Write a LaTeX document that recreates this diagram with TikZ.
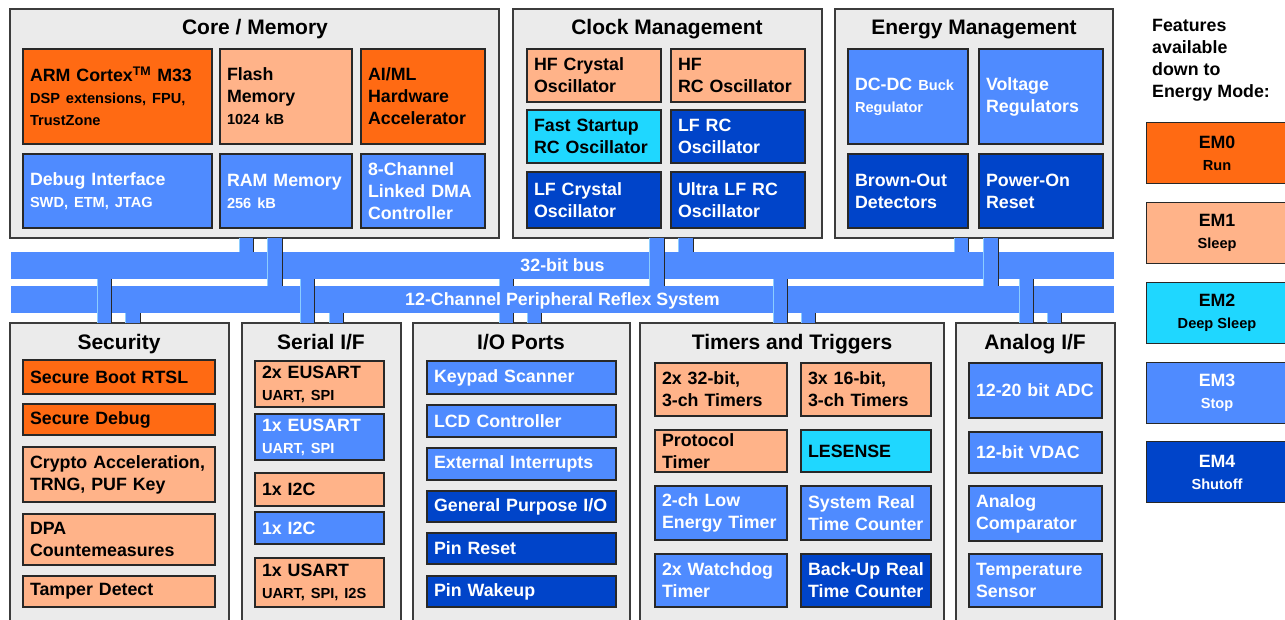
\documentclass[tikz,border=0pt]{standalone}
\usepackage{fontspec}
\setmainfont{Liberation Sans}
\definecolor{emzero}{RGB}{255,106,19}
\definecolor{emone}{RGB}{255,179,137}
\definecolor{emtwo}{RGB}{31,215,255}
\definecolor{emthree}{RGB}{79,139,255}
\definecolor{emfour}{RGB}{0,68,201}
\definecolor{panelgray}{RGB}{235,235,235}
\definecolor{panelline}{RGB}{60,60,60}
\definecolor{cellline}{RGB}{40,40,40}
\definecolor{stubshine}{RGB}{140,205,255}
\newcommand\titlefont{\fontsize{21}{24}\selectfont\bfseries}
\newcommand\cellfont{\fontsize{17.8}{22}\selectfont\bfseries}
\newcommand\subfont{\fontsize{14.6}{21}\selectfont\bfseries}
\newcommand\sm[1]{{\subfont #1}}
\begin{document}
\begin{tikzpicture}[x=1pt,y=-1pt]
	\tikzset{panel/.style 2 args = {draw=panelline, line width=1.4pt, fill=panelgray, minimum width=#1, minimum height=#2, anchor=north west, inner sep=0pt, outer sep=0pt}}
	\tikzset{ptitle/.style = {anchor=base, inner sep=0pt, font=\titlefont}}
	\tikzset{cell/.style 2 args = {draw=cellline, line width=1.1pt, minimum width=#1, minimum height=#2, /utils/exec={\pgfmathsetmacro\celltw{#1-14}}, text width=\celltw pt, align=left, anchor=north west, inner xsep=7pt, inner ysep=0pt, outer sep=0pt, font=\cellfont}}
	\tikzset{em0/.style = {fill=emzero, text=black}, em1/.style = {fill=emone, text=black}, em2/.style = {fill=emtwo, text=black}, em3/.style = {fill=emthree, text=white}, em4/.style = {fill=emfour, text=white}}
	\tikzset{band/.style = {fill=emthree, minimum width=1103, minimum height=27, anchor=north west, inner sep=0pt, outer sep=0pt}}
	\tikzset{buslabel/.style = {fill=emthree, text=white, inner xsep=1pt, inner ysep=0pt, minimum height=27, font=\cellfont, text height=12.7pt, text depth=0pt}}
	\tikzset{modebox/.style = {draw=cellline, line width=1.1pt, minimum width=141, minimum height=61, anchor=north west, align=center, inner sep=0pt, font=\cellfont}}
	\path[use as bounding box, clip] (0,0) rectangle (1285,619);

	\node[panel={489}{229}] (core) at (10,9) {};
	\node[panel={309}{229}] (clock) at (513,9) {};
	\node[panel={278}{229}] (energy) at (835,9) {};
	\node[panel={219}{330}] (security) at (10,323) {};
	\node[panel={159}{330}] (serial) at (242,323) {};
	\node[panel={217}{330}] (ioports) at (413,323) {};
	\node[panel={304}{330}] (timers) at (640,323) {};
	\node[panel={159}{330}] (analog) at (956,323) {};

	\node[ptitle] (coretitle) at (255,34) {Core / Memory};
	\node[ptitle] (clocktitle) at (667,34) {Clock Management};
	\node[ptitle] (energytitle) at (974,34) {Energy Management};
	\node[ptitle] (securitytitle) at (119,349) {Security};
	\node[ptitle] (serialtitle) at (321,349) {Serial I/F};
	\node[ptitle] (iotitle) at (521,349) {I/O Ports};
	\node[ptitle] (timerstitle) at (792,349) {Timers and Triggers};
	\node[ptitle] (analogtitle) at (1035,349) {Analog I/F};

	\node[cell={189}{95}, em0] (arm) at (23,49) {ARM Cortex\textsuperscript{TM} M33\\\sm{DSP extensions, FPU,}\\\sm{TrustZone}};
	\node[cell={132}{95}, em1] (flash) at (220,49) {Flash\\Memory\\\sm{1024 kB}};
	\node[cell={124}{95}, em0] (aiml) at (361,49) {AI/ML\\Hardware\\Accelerator};
	\node[cell={189}{74}, em3] (debug) at (23,154) {Debug Interface\\\sm{SWD, ETM, JTAG}};
	\node[cell={132}{74}, em3] (ram) at (220,154) {RAM Memory\\\sm{256 kB}};
	\node[cell={124}{74}, em3] (dma) at (361,154) {8-Channel\\Linked DMA\\Controller};

	\node[cell={134}{53}, em1] (hfxo) at (527,49) {HF Crystal\\Oscillator};
	\node[cell={134}{53}, em1] (hfrco) at (671,49) {HF\\RC Oscillator};
	\node[cell={134}{53}, em2] (fsrco) at (527,110) {Fast Startup\\RC Oscillator};
	\node[cell={134}{53}, em4] (lfrco) at (671,110) {LF RC\\Oscillator};
	\node[cell={134}{56}, em4] (lfxo) at (527,172) {LF Crystal\\Oscillator};
	\node[cell={134}{56}, em4] (ulfrco) at (671,172) {Ultra LF RC\\Oscillator};

	\node[cell={120}{95}, em3] (dcdc) at (848,49) {DC-DC \sm{Buck}\\\sm{Regulator}};
	\node[cell={124}{95}, em3] (vreg) at (979,49) {Voltage\\Regulators};
	\node[cell={120}{74}, em4] (bod) at (848,154) {Brown-Out\\Detectors};
	\node[cell={124}{74}, em4] (por) at (979,154) {Power-On\\Reset};

	\node[cell={192}{34}, em0] (sboot) at (23,360) {Secure Boot RTSL};
	\node[cell={192}{31}, em0] (sdebug) at (23,404) {Secure Debug};
	\node[cell={192}{55}, em1] (crypto) at (23,447) {Crypto Acceleration,\\TRNG, PUF Key};
	\node[cell={192}{51}, em1] (dpa) at (23,514) {DPA\\Countemeasures};
	\node[cell={192}{31}, em1] (tamper) at (23,576) {Tamper Detect};

	\node[cell={129}{46}, em1] (eusartb) at (255,361) {2x EUSART\\\sm{UART, SPI}};
	\node[cell={129}{46}, em3] (eusarta) at (255,414) {1x EUSART\\\sm{UART, SPI}};
	\node[cell={129}{33}, em1] (itwoca) at (255,473) {1x I2C};
	\node[cell={129}{32}, em3] (itwocb) at (255,512) {1x I2C};
	\node[cell={129}{49}, em1] (usart) at (255,558) {1x USART\\\sm{UART, SPI, I2S}};

	\node[cell={189}{33}, em3] (keypad) at (427,361) {Keypad Scanner};
	\node[cell={189}{32}, em3] (lcd) at (427,405) {LCD Controller};
	\node[cell={189}{32}, em3] (extint) at (427,448) {External Interrupts};
	\node[cell={189}{31}, em4] (gpio) at (427,491) {General Purpose I/O};
	\node[cell={189}{31}, em4] (pinreset) at (427,533) {Pin Reset};
	\node[cell={189}{31}, em4] (pinwake) at (427,576) {Pin Wakeup};

	\node[cell={132}{53}, em1] (timwide) at (655,363) {2x 32-bit,\\3-ch Timers};
	\node[cell={130}{53}, em1] (timnarrow) at (801,363) {3x 16-bit,\\3-ch Timers};
	\node[cell={132}{42}, em1] (prot) at (655,430) {Protocol\\Timer};
	\node[cell={130}{42}, em2] (lesense) at (801,430) {LESENSE};
	\node[cell={132}{54}, em3] (letimer) at (655,486) {2-ch Low\\Energy Timer};
	\node[cell={130}{54}, em3] (sysrtc) at (801,486) {System Real\\Time Counter};
	\node[cell={132}{53}, em3] (wdog) at (655,554) {2x Watchdog\\Timer};
	\node[cell={130}{53}, em4] (burtc) at (801,554) {Back-Up Real\\Time Counter};

	\node[cell={133}{55}, em3] (adc) at (969,363) {12-20 bit ADC};
	\node[cell={133}{41}, em3] (vdac) at (969,432) {12-bit VDAC};
	\node[cell={133}{55}, em3] (acmp) at (969,486) {Analog\\Comparator};
	\node[cell={133}{53}, em3] (tempsense) at (969,554) {Temperature\\Sensor};

	\node[band] (bus32) at (11,252) {};
	\node[band] (busprs) at (11,286) {};

	\foreach \xl/\xr/\up/\dn in {239/253/core/bus32, 267/282/core/busprs, 649/664/clock/busprs, 678/693/clock/bus32, 954/968/energy/bus32, 983/998/energy/busprs, 97/111/bus32/security, 125/140/busprs/security, 300/314/bus32/serial, 329/343/busprs/serial, 499/513/bus32/ioports, 527/541/busprs/ioports, 773/787/bus32/timers, 801/815/busprs/timers, 1019/1033/bus32/analog, 1047/1061/busprs/analog}
	{
		\fill[emthree] (\up.south -| \xl,0) rectangle (\dn.north -| \xr,0);
		\draw[cellline, line width=1pt] (\up.south -| \xr,0) -- (\dn.north -| \xr,0);
		\draw[stubshine, line width=1pt] (\up.south -| \xl,0) -- (\dn.north -| \xl,0);
	}

	\node[buslabel] (bus32label) at (bus32) {32-bit bus};
	\node[buslabel] (busprslabel) at (busprs) {12-Channel Peripheral Reflex System};

	\node[anchor=north west, align=left, inner sep=0pt, font=\cellfont] (modenote) at (1152,19) {Features\\available\\down to\\Energy Mode:};
	\node[modebox, em0] (modezero) at (1146,122) {EM0\\\sm{Run}};
	\node[modebox, em1] (modeone) at (1146,202) {EM1\\\sm{Sleep}};
	\node[modebox, em2] (modetwo) at (1146,282) {EM2\\\sm{Deep Sleep}};
	\node[modebox, em3] (modethree) at (1146,362) {EM3\\\sm{Stop}};
	\node[modebox, em4] (modefour) at (1146,441) {EM4\\\sm{Shutoff}};
\end{tikzpicture}
\end{document}
